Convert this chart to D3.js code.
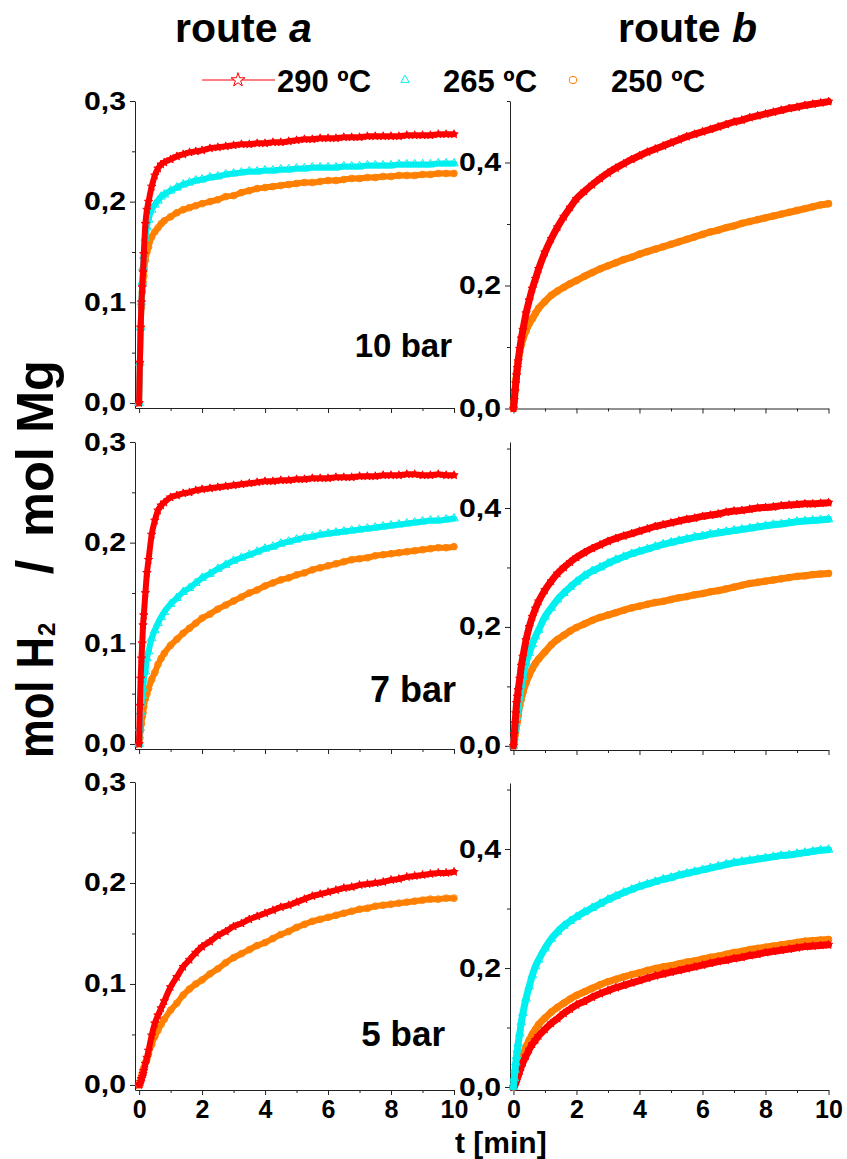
<!DOCTYPE html>
<html>
<head>
<meta charset="utf-8">
<script src="https://cdn.jsdelivr.net/npm/d3@7"></script>
<style>
  body { margin: 0; background: #fff; }
  svg { display: block; }
  text { font-family: "Liberation Sans", Arial, sans-serif; font-weight: bold; }
</style>
</head>
<body>
<div id="chart"></div>
<script>
// time axis (min), shared by every curve
var times = [0,0.025,0.05,0.075,0.1,0.125,0.15,0.2,0.25,0.3,0.4,0.5,0.6,0.7,0.8,1,1.2,1.4,1.6,1.8,2,
  2.25,2.5,2.75,3,3.25,3.5,3.75,4,4.25,4.5,4.75,5,5.25,5.5,5.75,6,6.25,6.5,6.75,7,7.25,7.5,7.75,8,8.25,8.5,8.75,9,9.25,9.5,9.75,10];

// route a, 10 bar
var a10_290 = [0,.04,.075,.1,.115,.13,.148,.178,.192,.2,.215,.226,.233,.237,.239,.242,.245,.247,.249,.25,.251,
  .253,.254,.255,.256,.257,.257,.258,.258,.259,.259,.26,.261,.262,.262,.263,.263,.263,.264,.264,.264,.265,.265,.265,.265,.265,.266,.266,.266,.266,.267,.267,.267];
var a10_265 = [0,.04,.075,.1,.12,.135,.146,.164,.175,.182,.192,.197,.201,.205,.207,.211,.214,.217,.219,.221,.222,
  .224,.225,.227,.228,.229,.23,.23,.231,.231,.232,.232,.233,.233,.234,.234,.234,.234,.235,.235,.235,.236,.236,.236,.236,.237,.237,.237,.237,.237,.238,.238,.238];
var a10_250 = [0,.04,.075,.095,.11,.12,.126,.142,.15,.155,.165,.17,.174,.178,.181,.185,.189,.192,.194,.196,.198,
  .2,.202,.205,.206,.209,.211,.213,.214,.215,.216,.217,.218,.219,.219,.22,.221,.221,.222,.223,.223,.224,.224,.225,.225,.226,.226,.226,.227,.227,.228,.228,.228];
// route b, 10 bar
var b10_290 = [0,.014,.028,.041,.054,.066,.077,.097,.114,.128,.155,.176,.195,.211,.227,.254,.276,.295,.312,.327,.341,
  .353,.364,.374,.383,.391,.398,.405,.411,.417,.422,.427,.432,.437,.442,.446,.45,.454,.458,.462,.466,.469,.473,.476,.479,.482,.485,.488,.49,.493,.495,.497,.499];
var b10_250 = [0,.012,.03,.046,.058,.068,.076,.092,.104,.113,.126,.138,.146,.155,.163,.174,.184,.191,.197,.203,.208,
  .215,.221,.227,.232,.237,.242,.246,.251,.255,.259,.263,.267,.271,.275,.279,.283,.287,.29,.294,.297,.301,.304,.307,.31,.313,.316,.319,.322,.325,.328,.331,.333];
// route a, 7 bar
var a7_290 = [0,.038,.065,.085,.1,.118,.128,.15,.17,.183,.208,.222,.232,.237,.24,.245,.247,.249,.25,.252,.253,
  .254,.255,.256,.257,.258,.259,.26,.261,.261,.262,.262,.263,.263,.264,.264,.264,.265,.265,.265,.266,.266,.266,.267,.267,.267,.268,.268,.267,.267,.268,.267,.267];
var a7_265 = [0,.016,.032,.041,.048,.055,.064,.072,.085,.092,.105,.113,.12,.126,.131,.139,.145,.151,.155,.16,.165,
  .169,.174,.178,.182,.185,.188,.191,.194,.196,.199,.201,.203,.205,.206,.208,.209,.21,.211,.212,.213,.214,.215,.216,.217,.218,.219,.22,.221,.222,.222,.223,.224];
var a7_250 = [0,.006,.014,.02,.027,.031,.037,.045,.05,.055,.064,.071,.079,.085,.09,.098,.104,.11,.115,.12,.125,
  .129,.134,.138,.142,.146,.15,.153,.157,.16,.163,.165,.168,.17,.173,.175,.177,.179,.181,.183,.184,.185,.187,.188,.189,.19,.191,.192,.193,.194,.195,.195,.196];
// route b, 7 bar
var b7_290 = [0,.02,.038,.055,.072,.083,.094,.113,.135,.15,.178,.2,.217,.231,.243,.262,.277,.29,.3,.309,.317,
  .325,.332,.338,.344,.349,.353,.357,.361,.365,.369,.372,.375,.378,.381,.383,.386,.388,.39,.393,.395,.396,.398,.4,.401,.402,.404,.405,.406,.407,.407,.408,.409];
var b7_265 = [0,.014,.027,.038,.049,.059,.067,.083,.102,.116,.14,.156,.171,.184,.195,.217,.232,.246,.257,.267,.276,
  .286,.294,.3,.307,.313,.318,.323,.327,.331,.335,.339,.342,.345,.348,.351,.353,.356,.358,.36,.362,.364,.366,.368,.37,.372,.373,.375,.377,.378,.379,.38,.381];
var b7_250 = [0,.008,.018,.028,.036,.042,.051,.068,.079,.09,.106,.119,.13,.139,.146,.158,.17,.179,.186,.193,.199,
  .205,.211,.216,.22,.224,.228,.232,.235,.238,.241,.243,.246,.249,.251,.254,.256,.259,.261,.264,.267,.27,.273,.275,.277,.279,.281,.283,.285,.286,.288,.289,.29];
// route a, 5 bar
var a5_290 = [0,.001,.003,.006,.008,.011,.014,.021,.027,.034,.049,.061,.069,.076,.083,.097,.107,.117,.124,.131,.137,
  .142,.148,.152,.157,.16,.164,.167,.17,.173,.176,.178,.181,.184,.187,.189,.191,.193,.195,.196,.198,.199,.2,.201,.203,.204,.206,.207,.208,.209,.21,.21,.211];
var a5_250 = [0,.002,.005,.008,.011,.014,.017,.022,.026,.031,.04,.048,.054,.06,.065,.074,.081,.089,.095,.1,.104,
  .11,.115,.121,.126,.13,.134,.138,.141,.145,.149,.152,.156,.159,.162,.164,.166,.168,.17,.172,.174,.175,.177,.178,.179,.18,.181,.182,.183,.184,.184,.185,.185];
// route b, 5 bar
var b5_290 = [0,.002,.005,.008,.012,.015,.019,.027,.034,.041,.052,.063,.072,.079,.086,.097,.107,.115,.124,.131,.138,
  .144,.151,.157,.162,.167,.171,.175,.179,.183,.187,.19,.193,.196,.199,.202,.205,.208,.211,.213,.216,.218,.221,.223,.226,.228,.23,.232,.234,.236,.237,.238,.239];
var b5_265 = [0,.015,.029,.041,.052,.063,.073,.09,.109,.124,.149,.169,.188,.203,.214,.233,.249,.261,.271,.279,.286,
  .294,.301,.308,.315,.321,.327,.332,.337,.341,.345,.349,.352,.356,.359,.362,.365,.368,.371,.374,.377,.379,.381,.383,.385,.387,.389,.39,.392,.394,.396,.398,.399];
var b5_250 = [0,.005,.011,.016,.021,.025,.029,.038,.046,.054,.068,.079,.089,.097,.105,.116,.126,.134,.141,.148,.154,
  .16,.166,.172,.177,.181,.185,.189,.192,.196,.199,.202,.204,.207,.21,.212,.215,.218,.22,.223,.226,.228,.231,.233,.235,.237,.239,.241,.243,.245,.246,.247,.248];

var xTicks = [0, 2, 4, 6, 8, 10];
var xMinor = [1, 3, 5, 7, 9];
var yTicksA = [0, 0.1, 0.2, 0.3], yMinorA = [0.05, 0.15, 0.25];
var yTicksB = [0, 0.2, 0.4],      yMinorB = [0.1, 0.3, 0.5];
var temps = ["290 ºC", "265 ºC", "250 ºC"];
var pressures = ["10 bar", "7 bar", "5 bar"];

// marker styles per temperature
var styles = {
  290: { color: "#ff0000", shape: d3.symbolStar, size: 22 },
  265: { color: "#00f0f0", shape: d3.symbolTriangle, size: 32 },
  250: { color: "#ff8000", shape: d3.symbolCircle, size: 36 }
};

var W = 847, H = 1159;
var svg = d3.select("#chart").append("svg").attr("width", W).attr("height", H);

var cols = [
  { axisX: 135, right: 454, xMin: -0.13, band: 6 },
  { axisX: 510, right: 828.5, xMin: -0.11, band: 7 }
];

var panels = [
  { c: 0, r: 0, top: 101, bottom: 408, y0: -0.005, y1: 0.3, series: [[250, a10_250], [265, a10_265], [290, a10_290]] },
  { c: 1, r: 0, top: 101, bottom: 408.5, y0: 0, y1: 0.5, series: [[250, b10_250], [290, b10_290]] },
  { c: 0, r: 1, top: 442, bottom: 749, y0: -0.005, y1: 0.3, series: [[250, a7_250], [265, a7_265], [290, a7_290]] },
  { c: 1, r: 1, top: 442, bottom: 750, y0: -0.007, y1: 0.511, series: [[250, b7_250], [265, b7_265], [290, b7_290]] },
  { c: 0, r: 2, top: 782, bottom: 1090, y0: -0.005, y1: 0.3, series: [[250, a5_250], [290, a5_290]] },
  { c: 1, r: 2, top: 783, bottom: 1090, y0: -0.005, y1: 0.511, series: [[250, b5_250], [290, b5_290], [265, b5_265]] }
];

var labelPos = [
  { x: 452, y: 357, size: 33 },
  { x: 456, y: 702, size: 36 },
  { x: 445, y: 1046, size: 35 }
];

var comma = function (d) { return d3.format(".1f")(d).replace(".", ","); };

function styleAxis(g) {
  g.attr("font-family", null).attr("font-size", null);
  g.selectAll("line").attr("stroke", "#222");
  g.select(".domain").attr("stroke", "#222");
}

panels.forEach(function (p) {
  var col = cols[p.c];
  var x = d3.scaleLinear().domain([col.xMin, 10]).range([col.axisX, col.right]);
  var y = d3.scaleLinear().domain([p.y0, p.y1]).range([p.bottom, p.top]);
  var g = svg.append("g");

  // x axis
  var xa = g.append("g").attr("transform", "translate(0," + p.bottom + ")")
    .call(d3.axisBottom(x).tickValues(xTicks).tickSize(5).tickSizeOuter(0).tickPadding(5)
      .tickFormat(p.r == 2 ? d3.format("d") : ""));
  styleAxis(xa);
  xa.selectAll("text").attr("font-size", 25).attr("fill", "#000");
  var xm = g.append("g").attr("transform", "translate(0," + p.bottom + ")")
    .call(d3.axisBottom(x).tickValues(xMinor).tickSize(3).tickSizeOuter(0).tickFormat(""));
  styleAxis(xm);
  xm.select(".domain").remove();

  // y axis
  var ya = g.append("g").attr("transform", "translate(" + col.axisX + ",0)")
    .call(d3.axisLeft(y).tickValues(p.c == 0 ? yTicksA : yTicksB).tickSize(5).tickSizeOuter(0).tickPadding(4)
      .tickFormat(comma));
  styleAxis(ya);
  ya.selectAll("text").attr("font-size", 25).attr("fill", "#000")
    .attr("textLength", 42).attr("lengthAdjust", "spacingAndGlyphs");
  var ym = g.append("g").attr("transform", "translate(" + col.axisX + ",0)")
    .call(d3.axisLeft(y).tickValues(p.c == 0 ? yMinorA : yMinorB).tickSize(3).tickSizeOuter(0).tickFormat(""));
  styleAxis(ym);
  ym.select(".domain").remove();

  // curves: thick band through the points, open markers on top
  p.series.forEach(function (s) {
    var st = styles[s[0]];
    var pts = times.map(function (t, i) { return [t, s[1][i]]; });
    g.append("path").datum(pts)
      .attr("d", d3.line().curve(d3.curveMonotoneX).x(function (d) { return x(d[0]); }).y(function (d) { return y(d[1]); }))
      .attr("fill", "none").attr("stroke", st.color).attr("stroke-width", col.band)
      .attr("stroke-linejoin", "round").attr("stroke-linecap", "round");
    g.selectAll(null).data(pts).enter().append("path")
      .attr("transform", function (d) { return "translate(" + x(d[0]) + "," + y(d[1]) + ")"; })
      .attr("d", d3.symbol().type(st.shape).size(st.size))
      .attr("fill", "none").attr("stroke", st.color).attr("stroke-width", 1);
  });

  // pressure label on the left column
  if (p.c == 0) {
    var lp = labelPos[p.r];
    svg.append("text").attr("x", lp.x).attr("y", lp.y).attr("text-anchor", "end")
      .attr("font-size", lp.size).text(pressures[p.r]);
  }
});

// column titles
var t1 = svg.append("text").attr("x", 175).attr("y", 42).attr("font-size", 41).text("route ");
t1.append("tspan").attr("font-style", "italic").text("a");
var t2 = svg.append("text").attr("x", 618).attr("y", 42).attr("font-size", 41).text("route ");
t2.append("tspan").attr("font-style", "italic").text("b");

// legend
var legend = [
  { key: 290, mx: 238, tx: 277, size: 60 },
  { key: 265, mx: 405, tx: 443, size: 30 },
  { key: 250, mx: 573, tx: 611, size: 45 }
];
svg.append("line").attr("x1", 202).attr("x2", 275).attr("y1", 80).attr("y2", 80)
  .attr("stroke", styles[290].color).attr("stroke-width", 1);
legend.forEach(function (l, i) {
  var st = styles[l.key];
  svg.append("path").attr("transform", "translate(" + l.mx + ",80)")
    .attr("d", d3.symbol().type(st.shape).size(l.size))
    .attr("fill", "#fff").attr("stroke", st.color).attr("stroke-width", 1);
  svg.append("text").attr("x", l.tx).attr("y", 92).attr("font-size", 31).text(temps[i]);
});

// x axis title
svg.append("text").attr("x", 455).attr("y", 1153).attr("font-size", 30).text("t [min]");

// y axis title (rotated)
var yl = svg.append("g").attr("transform", "translate(53,758) rotate(-90)");
yl.append("text").attr("x", 0).attr("y", 0).attr("font-size", 52)
  .attr("textLength", 121).attr("lengthAdjust", "spacingAndGlyphs").text("mol H");
yl.append("text").attr("x", 122).attr("y", 2).attr("font-size", 24).text("2");
yl.append("text").attr("x", 191).attr("y", 0).attr("font-size", 52).attr("text-anchor", "middle").text("/");
yl.append("text").attr("x", 221).attr("y", 0).attr("font-size", 52)
  .attr("textLength", 177).attr("lengthAdjust", "spacingAndGlyphs").text("mol Mg");
</script>
</body>
</html>
